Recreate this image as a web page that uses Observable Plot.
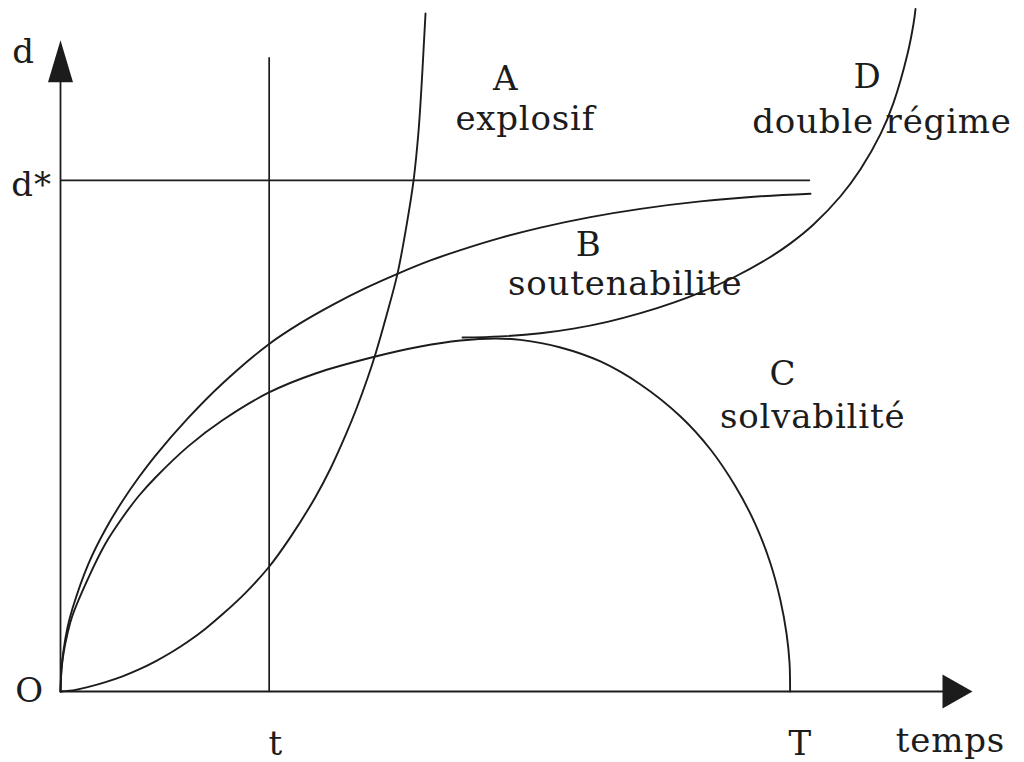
<!DOCTYPE html>
<html>
<head>
<meta charset="utf-8">
<script src="https://cdn.jsdelivr.net/npm/d3@7"></script>
<script src="https://cdn.jsdelivr.net/npm/@observablehq/plot@0.6"></script>
<style>
  html, body { margin: 0; padding: 0; background: #fff; }
  #chart svg { display: block; }
  #chart svg text { letter-spacing: 0.8px; }
</style>
</head>
<body>
<div id="chart"></div>
<script>
// ---- Data (time units: T = 100 ; debt units: d* = 100) ----
const curveA = [[0,0],[2.06,0.31],[3.84,0.9],[6.17,1.84],[8.5,2.97],[10.69,4.27],[13.02,5.91],[15.21,7.67],[17.54,9.82],[19.87,12.29],[22.2,15.1],[25.36,19.31],[28.51,24.26],[31.52,30.21],[34.95,38.06],[37.01,43.63],[39.06,50.09],[40.57,55.37],[42.08,61.28],[43.17,66.05],[44.68,73.57],[46.19,81.76],[47.42,91.12],[48.38,99.86],[49.07,109.57],[49.48,118.37],[49.82,127.17],[50.03,132.65]];
const curveB = [[0,0],[0.14,4.5],[0.41,8.02],[0.96,12.52],[1.64,16.24],[3.84,25.04],[6.17,31.76],[8.5,37.27],[10.69,41.81],[13.02,46.16],[17.54,53.57],[22.2,60.26],[28.51,67.91],[32.89,72.08],[37.42,75.76],[41.8,78.93],[46.19,81.73],[50.71,84.35],[54.82,86.36],[60.31,88.75],[65.79,90.77],[72.64,92.82],[79.5,94.44],[87.72,95.89],[95.94,96.89],[102.8,97.4]];
const curveC = [[0,0],[0.14,4.3],[0.41,7.43],[0.96,11.35],[1.64,14.87],[3.84,22.3],[6.17,28.96],[8.5,34.04],[10.69,38.2],[13.02,41.87],[17.54,48.01],[22.2,53.06],[28.51,58.46],[34.95,62.22],[43.17,65.54],[49.34,67.5],[54.82,68.67],[59.62,69.07],[63.05,68.79],[68.53,67.31],[74.01,64.57],[79.5,60.07],[84.98,53.81],[89.09,47.35],[92.52,40.11],[95.26,32.67],[97.31,25.04],[98.68,17.8],[99.51,11.35],[99.92,5.67],[100,0]];
const curveD = [[55.1,69.26],[60.31,69.48],[65.79,70.1],[70.31,71.0],[74.97,72.33],[79.5,74.02],[84.02,76.09],[87.72,78.11],[92.24,81.0],[96.9,84.66],[100.05,87.68],[103.21,91.37],[106.91,96.9],[109.65,102.19],[112.39,109.04],[114.17,115.18],[116.09,124.73],[116.91,130.6],[117.19,133.53]];

const curveLetters = ["A", "B", "C", "D"];
const curveNames = ["explosif", "soutenabilite", "solvabilité", "double régime"];
const axisLabels = ["d", "d*", "O", "t", "T", "temps"];

const tValue = 28.6;     // instant t
const TValue = 100;      // horizon T
const dStar = 100;       // debt ceiling d*
const dStarEnd = 102.8;  // end of d* line
const xAxisEnd = 125;
const yAxisEnd = 127.4;
const tLineTop = 124;

// ---- Build tables ----
const toRows = (arr, name) => arr.map(([t, d]) => ({t, d, name}));
const rows = [
  ...toRows(curveA, "A"),
  ...toRows(curveB, "B"),
  ...toRows(curveC, "C"),
  ...toRows(curveD, "D")
];

const ink = "#1c1c1c";
const font = "DejaVu Serif";
const fs = 34;

const arrowUp = {draw(ctx) { ctx.moveTo(0, 0); ctx.lineTo(12.5, 42); ctx.lineTo(-12.5, 42); ctx.closePath(); }};
const arrowRight = {draw(ctx) { ctx.moveTo(0, 0); ctx.lineTo(-30, -17); ctx.lineTo(-30, 17); ctx.closePath(); }};

const txt = (label, x, y, anchor = "middle") =>
  Plot.text([label], {x: () => x, y: () => y, text: d => d, fontFamily: font, fontSize: fs,
    fill: ink, textAnchor: anchor, lineAnchor: "bottom"});

const chart = Plot.plot({
  width: 1024,
  height: 762,
  marginLeft: 60,
  marginRight: 52,
  marginTop: 0,
  marginBottom: 71,
  x: {domain: [0, 125], axis: null},
  y: {domain: [0, 135.2], axis: null},
  style: {background: "#fff", overflow: "visible"},
  marks: [
    // axes
    Plot.ruleY([0], {x1: 0, x2: xAxisEnd - 2, stroke: ink, strokeWidth: 1.8}),
    Plot.ruleX([0], {y1: 0, y2: yAxisEnd - 2, stroke: ink, strokeWidth: 1.8}),
    Plot.dot([{t: 0, d: yAxisEnd}], {x: "t", y: "d", symbol: arrowUp, fill: ink, stroke: null}),
    Plot.dot([{t: xAxisEnd, d: 0}], {x: "t", y: "d", symbol: arrowRight, fill: ink, stroke: null}),
    // reference lines
    Plot.ruleX([tValue], {y1: 0, y2: tLineTop, stroke: ink, strokeWidth: 1.7}),
    Plot.ruleY([dStar], {x1: 0, x2: dStarEnd, stroke: ink, strokeWidth: 1.7}),
    // curves
    Plot.line(rows, {x: "t", y: "d", z: "name", curve: "catmull-rom", stroke: ink, strokeWidth: 1.9}),
    // curve labels
    txt(curveLetters[0], 61.0, 117.6),
    txt(curveNames[0], 63.7, 109.8),
    txt(curveLetters[1], 72.4, 85.3),
    txt(curveNames[1], 77.4, 77.5),
    txt(curveLetters[2], 99.0, 59.9),
    txt(curveNames[2], 103.1, 51.5),
    txt(curveLetters[3], 110.6, 118.0),
    txt(curveNames[3], 112.6, 109.2),
    // axis labels
    txt(axisLabels[0], -5.07, 122.9),
    txt(axisLabels[1], -3.97, 97.0),
    txt(axisLabels[2], -4.25, -2.15),
    txt(axisLabels[3], tValue + 0.9, -12.4),
    txt(axisLabels[4], TValue + 1.4, -12.4),
    txt(axisLabels[5], 121.98, -11.9)
  ]
});

document.getElementById("chart").appendChild(chart);
</script>
</body>
</html>
